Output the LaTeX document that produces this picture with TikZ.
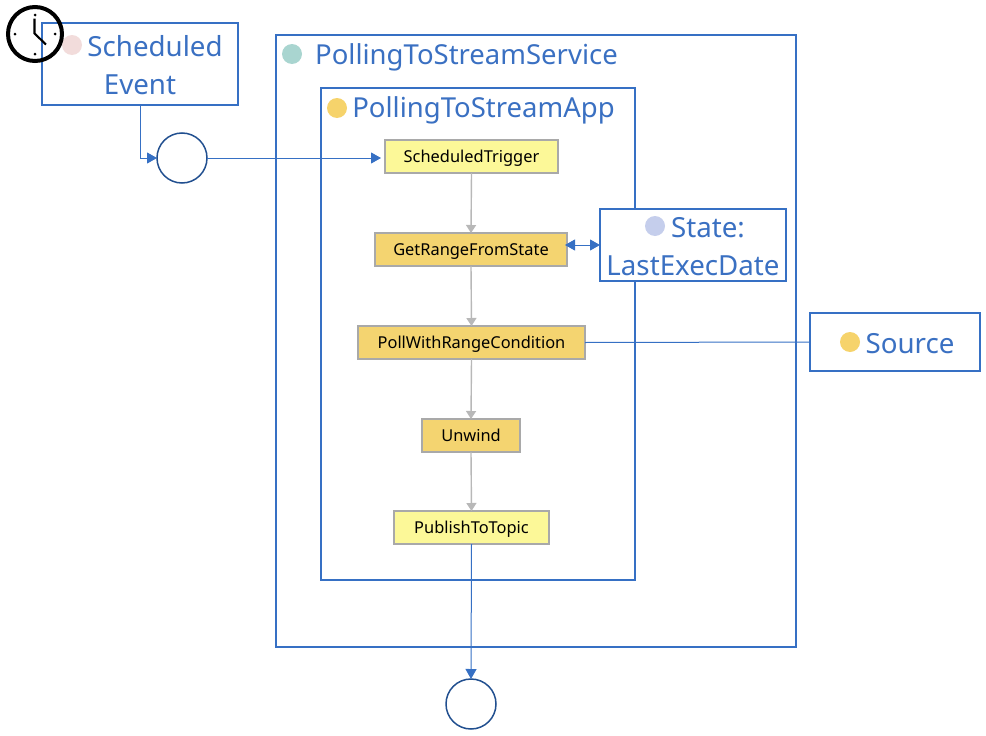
\documentclass[tikz,border=0pt]{standalone}
\usepackage{fontspec}
\setmainfont{Noto Sans}
\usetikzlibrary{arrows.meta,calc}
\definecolor{frameblue}{HTML}{3670C4}
\definecolor{textblue}{HTML}{3A70C2}
\definecolor{ringblue}{HTML}{214F8F}
\definecolor{stepyellow}{HTML}{FCF898}
\definecolor{steporange}{HTML}{F4D470}
\definecolor{stepgray}{HTML}{A9A9A9}
\definecolor{linkgray}{HTML}{B8B8B8}
\definecolor{dotpink}{HTML}{F2DCDB}
\definecolor{dotteal}{HTML}{A9D5D0}
\definecolor{dotyellow}{HTML}{F6D36B}
\definecolor{dotlav}{HTML}{C5CEEC}
\newcommand{\topstrut}{\rule{0pt}{23pt}}
\tikzset{
  x=1pt,y=-1pt,
  frame/.style={draw=frameblue,line width=2pt,inner sep=0pt,outer sep=0pt},
  whitebox/.style={frame,fill=white,text=textblue,font=\fontsize{27.7}{38}\selectfont,align=center},
  titletext/.style={text=textblue,font=\fontsize{27.5}{32}\selectfont,inner sep=0pt},
  stepbox/.style={draw=stepgray,line width=1.5pt,inner sep=0pt,outer sep=0pt,text=black,font=\fontsize{16.4}{18}\selectfont,text height=15pt,text depth=3pt},
  yellowstep/.style={stepbox,fill=stepyellow},
  orangestep/.style={stepbox,fill=steporange},
  dot/.style={circle,inner sep=0pt,minimum size=20pt},
  ring/.style={circle,draw=ringblue,line width=1.5pt,minimum size=50pt,inner sep=0pt,outer sep=0pt},
  bluelink/.style={draw=frameblue,line width=1pt},
  bluetip/.tip={Triangle[length=10pt,width=11pt]},
  bluearrow/.style={bluelink,-bluetip},
  grayarrow/.style={draw=linkgray,line width=1.4pt,-{Triangle[length=8pt,width=10pt]}},
  clockline/.style={draw=black,line width=2.1pt},
  tick/.style={circle,fill=black,inner sep=0pt,minimum size=3pt},
}
\begin{document}
\begin{tikzpicture}
\useasboundingbox (0,0) rectangle (986,736);
% containers
\node[frame,minimum width=520pt,minimum height=612pt] (service) at (536,341) {};
\node[frame,minimum width=314pt,minimum height=492pt] (app) at (478,334) {};
\node[titletext] (servicetitle) at (466.5,57) {PollingToStreamService};
\node[titletext] (apptitle) at (483.5,110.5) {PollingToStreamApp};
\node[dot,fill=dotteal] (servicedot) at (292,54) {};
\node[dot,fill=dotyellow] (appdot) at (337,108) {};
% steps
\node[yellowstep,minimum width=173pt,minimum height=33pt] (trigger) at (471.5,156.5) {ScheduledTrigger};
\node[orangestep,minimum width=192pt,minimum height=33pt] (range) at (471,249.5) {GetRangeFromState};
\node[orangestep,minimum width=227pt,minimum height=33pt] (poll) at (471.5,342.5) {PollWithRangeCondition};
\node[orangestep,minimum width=98pt,minimum height=33pt] (unwind) at (471,435.5) {Unwind};
\node[yellowstep,minimum width=155pt,minimum height=33pt] (publish) at (471.5,527.5) {PublishToTopic};
% outside boxes
\node[whitebox,minimum width=196pt,minimum height=82pt] (event) at (140,64) {\hspace*{30pt}\topstrut Scheduled\\Event};
\node[whitebox,minimum width=186pt,minimum height=72pt] (state) at (693,245) {\hspace*{30pt}\topstrut State:\\LastExecDate};
\node[whitebox,minimum width=170pt,minimum height=58pt] (source) at (895,342) {\hspace*{30pt}\topstrut Source};
\node[dot,fill=dotpink] (eventdot) at (72,45) {};
\node[dot,fill=dotlav] (statedot) at (655,226) {};
\node[dot,fill=dotyellow] (sourcedot) at (850,342) {};
% events
\node[ring] (start) at (182,158) {};
\node[ring] (finish) at (471,704) {};
% connectors
\draw[bluearrow] (event.south) |- (start.west);
\draw[bluearrow,shorten >=4pt] (start.east) -- (start.east -| trigger.west);
\draw[grayarrow] (trigger.south) -- (range.north);
\draw[grayarrow] (range.south) -- (poll.north);
\draw[grayarrow] (poll.south) -- (unwind.north);
\draw[grayarrow] (unwind.south) -- (publish.north);
\draw[bluelink,bluetip-bluetip,shorten <=-2pt] (state.west -| range.east) -- (state.west);
\draw[bluelink] (poll.east) -- (source.west);
\draw[bluearrow] (publish.south) -- (finish.north);
% clock
\coordinate (clockc) at (35,34);
\draw[draw=black,line width=4pt] (clockc) circle[radius=27pt];
\draw[clockline] (34.5,18.5) -- (34.5,33.5) -- (46,44.5);
\node[tick] (tick12) at (35,15) {};
\node[tick] (tick3) at (55,34) {};
\node[tick] (tick6) at (35,54) {};
\node[tick] (tick9) at (15,34) {};
\end{tikzpicture}
\end{document}
